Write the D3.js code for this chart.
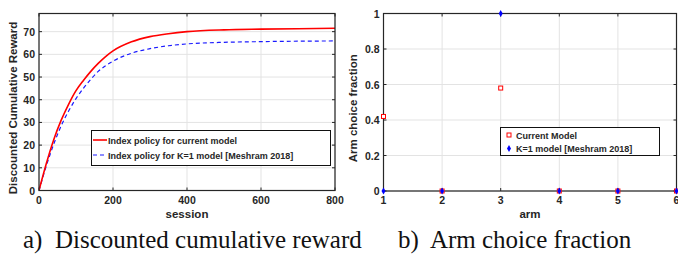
<!DOCTYPE html>
<html>
<head>
<meta charset="utf-8">
<script src="https://cdn.jsdelivr.net/npm/d3@7"></script>
<style>
  body { margin: 0; background: #fff; }
  svg { display: block; }
  .tick-lbl, .ax-lbl, .leg-txt { font-family: "Liberation Sans", Arial, Helvetica, sans-serif; font-weight: bold; fill: #262626; }
  .caption { font-family: "Liberation Serif", "Times New Roman", serif; fill: #111; }
</style>
</head>
<body>
<script>
// panel a) discounted cumulative reward vs session
var sessions = [0, 20, 40, 60, 80, 100, 120, 140, 160, 180, 200, 250, 300, 350, 400, 500, 600, 700, 800];
var rewardCurrent = [0, 12, 22.5, 31, 38, 44, 48.5, 52.5, 56, 59, 61.5, 65.5, 67.8, 69.1, 70, 70.8, 71.1, 71.3, 71.5];
var rewardK1 = [0, 11, 20.5, 28.5, 35, 40.5, 45, 49, 52.5, 55, 57, 60.5, 62.5, 63.8, 64.6, 65.3, 65.6, 65.8, 65.9];
var sessionTicks = [0, 200, 400, 600, 800];
var rewardTicks = [0, 10, 20, 30, 40, 50, 60, 70];

// panel b) arm choice fraction
var arms = [1, 2, 3, 4, 5, 6];
var fracCurrent = [0.42, 0, 0.58, 0, 0, 0];
var fracK1 = [0, 0, 1, 0, 0, 0];
var armTicks = [1, 2, 3, 4, 5, 6];
var fracTicks = [0, 0.2, 0.4, 0.6, 0.8, 1];

var legendA = ["Index policy for current model", "Index policy for K=1 model [Meshram 2018]"];
var legendB = ["Current Model", "K=1 model [Meshram 2018]"];

var W = 678, H = 255;
var axisCol = "#262626", gridCol = "#e3e3e3";

var svg = d3.select("body").append("svg").attr("width", W).attr("height", H);

// draws grid, ticks (inside, all four sides) and labels
function drawFrame(x, y, xt, yt, yFmt, xLabel, yLabel, yLabelX) {
	var g = svg.append("g");
	var x0 = x.range()[0], x1 = x.range()[1], y0 = y.range()[0], y1 = y.range()[1];
	g.selectAll(".gx").data(xt).enter().append("line")
		.attr("x1", d => x(d)).attr("x2", d => x(d)).attr("y1", y0).attr("y2", y1)
		.attr("stroke", gridCol).attr("stroke-width", 1);
	g.selectAll(".gy").data(yt).enter().append("line")
		.attr("x1", x0).attr("x2", x1).attr("y1", d => y(d)).attr("y2", d => y(d))
		.attr("stroke", gridCol).attr("stroke-width", 1);

	var tl = 3;
	xt.forEach(function(d) {
		g.append("line").attr("x1", x(d)).attr("x2", x(d)).attr("y1", y0).attr("y2", y0 - tl).attr("stroke", axisCol);
		g.append("line").attr("x1", x(d)).attr("x2", x(d)).attr("y1", y1).attr("y2", y1 + tl).attr("stroke", axisCol);
	});
	yt.forEach(function(d) {
		g.append("line").attr("x1", x0).attr("x2", x0 + tl).attr("y1", y(d)).attr("y2", y(d)).attr("stroke", axisCol);
		g.append("line").attr("x1", x1).attr("x2", x1 - tl).attr("y1", y(d)).attr("y2", y(d)).attr("stroke", axisCol);
	});

	g.selectAll(".xl").data(xt).enter().append("text").attr("class", "tick-lbl")
		.attr("x", d => x(d)).attr("y", y0 + 13).attr("text-anchor", "middle")
		.attr("font-size", 10.5).text(d => d);
	g.selectAll(".yl").data(yt).enter().append("text").attr("class", "tick-lbl")
		.attr("x", x0 - 4).attr("y", d => y(d) + 4).attr("text-anchor", "end")
		.attr("font-size", 10.5).text(yFmt);

	g.append("text").attr("class", "ax-lbl").attr("font-size", 11.5)
		.attr("x", (x0 + x1) / 2).attr("y", y0 + 27).attr("text-anchor", "middle").text(xLabel);
	g.append("text").attr("class", "ax-lbl").attr("font-size", 11.5)
		.attr("transform", "translate(" + yLabelX + "," + ((y0 + y1) / 2 + 6) + ") rotate(-90)")
		.attr("text-anchor", "middle").text(yLabel);
	return g;
}

function drawBox(x, y) {
	svg.append("rect")
		.attr("x", x.range()[0]).attr("y", y.range()[1])
		.attr("width", x.range()[1] - x.range()[0]).attr("height", y.range()[0] - y.range()[1])
		.attr("fill", "none").attr("stroke", axisCol).attr("stroke-width", 1.2);
}

// ---------- panel a ----------
var xA = d3.scaleLinear().domain([0, 800]).range([39, 335]);
var yA = d3.scaleLinear().domain([0, 78]).range([190.5, 13.5]);
drawFrame(xA, yA, sessionTicks, rewardTicks, d => d, "session", "Discounted Cumulative Reward", 17);

svg.append("clipPath").attr("id", "clipA").append("rect")
	.attr("x", 39).attr("y", 13.5).attr("width", 296).attr("height", 177);

var lineA = d3.line().x(d => xA(d[0])).y(d => yA(d[1])).curve(d3.curveMonotoneX);
svg.append("path").datum(d3.zip(sessions, rewardK1)).attr("d", lineA)
	.attr("clip-path", "url(#clipA)")
	.attr("fill", "none").attr("stroke", "#1a1aff").attr("stroke-width", 1.2).attr("stroke-dasharray", "4,3");
svg.append("path").datum(d3.zip(sessions, rewardCurrent)).attr("d", lineA)
	.attr("clip-path", "url(#clipA)")
	.attr("fill", "none").attr("stroke", "#ff0000").attr("stroke-width", 1.6);
drawBox(xA, yA);

// legend a
var legA = svg.append("g");
legA.append("rect").attr("x", 91.5).attr("y", 130.5).attr("width", 239).attr("height", 35)
	.attr("fill", "#fff").attr("stroke", "#111").attr("stroke-width", 1);
legA.append("line").attr("x1", 93).attr("x2", 107).attr("y1", 140).attr("y2", 140)
	.attr("stroke", "#ff0000").attr("stroke-width", 1.6);
legA.append("line").attr("x1", 93).attr("x2", 107).attr("y1", 155).attr("y2", 155)
	.attr("stroke", "#1a1aff").attr("stroke-width", 1.2).attr("stroke-dasharray", "4,3");
legA.selectAll("text").data(legendA).enter().append("text").attr("class", "leg-txt")
	.attr("x", 108).attr("y", (d, i) => 143.5 + i * 15).attr("font-size", 9).text(d => d);

// ---------- panel b ----------
var xB = d3.scaleLinear().domain([1, 6]).range([383.5, 676.5]);
var yB = d3.scaleLinear().domain([0, 1]).range([191, 13.5]);
drawFrame(xB, yB, armTicks, fracTicks, d => d3.format("~g")(d), "arm", "Arm choice fraction", 357);
drawBox(xB, yB);

// red hollow squares
svg.selectAll(".sqB").data(d3.zip(arms, fracCurrent)).enter().append("rect")
	.attr("x", d => xB(d[0]) - 2).attr("y", d => yB(d[1]) - 2)
	.attr("width", 4).attr("height", 4)
	.attr("fill", "#fff").attr("stroke", "#ff0000").attr("stroke-width", 1);
// blue filled diamonds
var diamond = d3.symbol().type(d3.symbolDiamond).size(14);
svg.selectAll(".dmB").data(d3.zip(arms, fracK1)).enter().append("path")
	.attr("d", diamond)
	.attr("transform", d => "translate(" + xB(d[0]) + "," + yB(d[1]) + ")")
	.attr("fill", "#0000ff");

// legend b
var legB = svg.append("g");
legB.append("rect").attr("x", 500.5).attr("y", 127.5).attr("width", 159).attr("height", 28)
	.attr("fill", "#fff").attr("stroke", "#111").attr("stroke-width", 1);
legB.append("rect").attr("x", 507).attr("y", 133).attr("width", 4).attr("height", 4)
	.attr("fill", "#fff").attr("stroke", "#ff0000").attr("stroke-width", 1);
legB.append("path").attr("d", diamond).attr("transform", "translate(509,148.5)").attr("fill", "#0000ff");
legB.selectAll("text").data(legendB).enter().append("text").attr("class", "leg-txt")
	.attr("x", 516).attr("y", (d, i) => 138.5 + i * 13.5).attr("font-size", 9).text(d => d);

// ---------- captions ----------
svg.append("text").attr("class", "caption").attr("x", 23).attr("y", 248).attr("font-size", 25)
	.attr("xml:space", "preserve").text("a)  Discounted cumulative reward");
svg.append("text").attr("class", "caption").attr("x", 398).attr("y", 248).attr("font-size", 25)
	.attr("xml:space", "preserve").text("b)  Arm choice fraction");
</script>
</body>
</html>
